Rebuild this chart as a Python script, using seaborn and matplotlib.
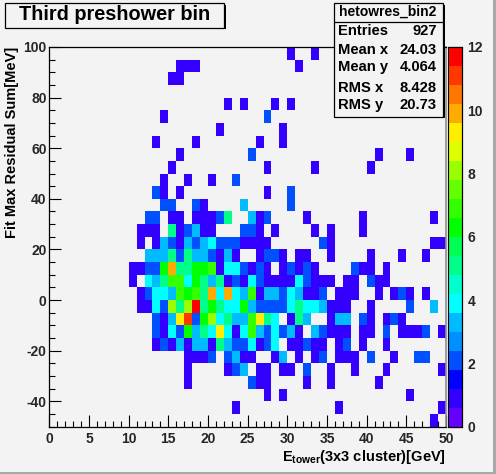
import numpy as np
import pandas as pd
import seaborn as sns
import matplotlib
matplotlib.use('Agg')
import matplotlib.pyplot as plt
from matplotlib.colors import ListedColormap
from matplotlib.patches import Rectangle
from matplotlib.ticker import FixedLocator

# bin edges of the histogram
x_edges = np.arange(0, 51, 1)
y_edges = np.arange(100, -55, -5)

# counts per row, top row first, {x bin: count}, empty bins left out
row_counts = [
    {30: 1, 33: 1},
    {16: 1, 17: 1, 18: 1, 31: 1},
    {15: 1, 16: 1},
    {},
    {22: 1, 24: 1, 28: 1, 30: 1},
    {14: 1, 27: 2},
    {21: 1, 29: 1},
    {13: 1, 18: 1, 26: 1, 29: 1},
    {16: 1, 25: 2, 41: 1, 45: 1},
    {15: 1, 27: 1, 33: 1, 40: 1},
    {14: 1, 17: 1, 20: 1, 23: 2},
    {13: 2, 14: 1, 16: 1, 27: 1, 30: 2},
    {14: 2, 15: 2, 18: 2, 19: 1, 24: 3, 30: 2},
    {12: 2, 13: 2, 15: 1, 16: 1, 18: 1, 19: 1, 20: 1, 21: 2, 22: 5, 25: 3, 26: 1, 27: 2, 32: 1, 39: 1, 48: 1},
    {11: 1, 12: 1, 13: 1, 15: 5, 16: 1, 17: 2, 18: 3, 19: 1, 20: 1, 24: 2, 25: 2, 26: 1, 28: 1, 33: 1, 35: 1, 39: 1},
    {11: 1, 13: 1, 14: 3, 15: 2, 16: 1, 17: 3, 18: 2, 19: 3, 20: 4, 21: 2, 22: 2, 23: 2, 24: 1, 25: 1, 26: 1, 27: 1,
     34: 2, 35: 1, 48: 1, 49: 1},
    {12: 3, 13: 3, 14: 3, 15: 5, 16: 2, 17: 5, 18: 3, 19: 3, 20: 2, 21: 1, 22: 3, 23: 1, 26: 1, 27: 2, 28: 2, 29: 1,
     31: 1, 32: 1, 35: 1, 40: 1, 44: 1, 47: 1},
    {10: 1, 11: 1, 12: 2, 13: 2, 14: 6, 15: 10, 16: 5, 17: 5, 18: 6, 19: 6, 20: 7, 21: 1, 22: 4, 23: 4, 24: 2, 25: 1,
     26: 2, 27: 1, 29: 1, 30: 2, 31: 1, 32: 2, 33: 1, 38: 2, 39: 1, 40: 1, 42: 1},
    {10: 1, 12: 4, 13: 3, 14: 5, 15: 7, 16: 7, 17: 4, 18: 6, 19: 5, 20: 3, 21: 5, 22: 1, 23: 2, 24: 1, 25: 4, 26: 2,
     27: 1, 28: 1, 29: 1, 30: 1, 31: 4, 32: 2, 33: 1, 34: 1, 35: 1, 37: 1, 38: 1, 40: 2, 41: 1, 42: 1},
    {11: 1, 12: 2, 13: 4, 14: 4, 15: 3, 16: 7, 17: 6, 18: 7, 19: 5, 20: 10, 21: 4, 22: 10, 23: 4, 24: 3, 25: 7, 26: 1,
     27: 3, 28: 3, 29: 2, 30: 4, 31: 3, 32: 1, 33: 1, 34: 2, 36: 1, 37: 1, 38: 1, 41: 1, 43: 1, 44: 2, 45: 1, 47: 1},
    {11: 1, 12: 1, 13: 4, 14: 2, 15: 8, 16: 5, 17: 8, 18: 12, 19: 5, 20: 6, 21: 5, 22: 4, 23: 4, 24: 6, 25: 3, 26: 2,
     27: 2, 28: 2, 29: 2, 30: 4, 31: 5, 32: 4, 33: 4, 34: 3, 35: 1, 36: 1, 37: 1, 40: 1, 45: 2, 48: 3},
    {13: 2, 14: 1, 15: 3, 16: 9, 17: 11, 18: 2, 19: 6, 20: 8, 21: 4, 22: 5, 23: 3, 24: 3, 25: 7, 26: 9, 27: 5, 28: 4,
     30: 1, 31: 5, 32: 3, 35: 1, 36: 3, 37: 3, 39: 2, 40: 1, 42: 1, 43: 2, 44: 1},
    {13: 2, 14: 1, 15: 4, 16: 2, 17: 6, 18: 3, 19: 5, 20: 4, 21: 9, 22: 4, 23: 1, 24: 4, 25: 7, 26: 3, 27: 2, 28: 4,
     29: 2, 30: 3, 31: 1, 33: 3, 34: 2, 35: 1, 36: 1, 37: 1, 39: 1, 40: 1, 42: 2, 44: 1, 45: 1, 46: 1, 47: 2, 49: 1},
    {13: 1, 14: 2, 15: 1, 16: 3, 17: 1, 18: 3, 19: 3, 20: 1, 21: 5, 22: 3, 23: 2, 24: 2, 25: 4, 26: 1, 27: 2, 28: 4,
     30: 1, 31: 1, 32: 2, 33: 1, 34: 1, 36: 1, 37: 2, 39: 1, 42: 1},
    {17: 1, 18: 1, 19: 1, 20: 2, 22: 2, 23: 3, 24: 1, 25: 1, 28: 1, 29: 3, 31: 1, 33: 1, 34: 2, 36: 1, 37: 1, 38: 1,
     40: 2, 43: 1, 46: 2, 47: 2},
    {17: 1, 22: 1, 23: 2, 24: 3, 26: 1, 27: 1, 29: 1, 30: 1, 32: 2, 35: 1, 38: 1, 42: 1, 49: 1},
    {17: 1, 25: 2, 26: 1, 27: 1, 32: 1, 35: 1, 41: 1},
    {27: 1, 29: 1, 45: 1},
    {23: 1, 36: 1, 49: 1},
    {48: 1},
]

x_ticks = [0, 5, 10, 15, 20, 25, 30, 35, 40, 45, 50]
y_ticks = [100, 80, 60, 40, 20, 0, -20, -40]
z_ticks = [0, 2, 4, 6, 8, 10, 12]

stat_names = ['Entries', 'Mean x', 'Mean y', 'RMS x', 'RMS y']
stat_values = ['927', '24.03', '4.064', '8.428', '20.73']
stat_rows_px = [31, 50, 67, 88, 105]

# root rainbow palette, 20 contour levels
band_colors = ['#6600ff', '#3300ff', '#0000ff', '#0050ff', '#0090ff', '#00bbff', '#00ffff', '#00ffcc', '#00ff88',
               '#00ff55', '#00ff00', '#33ff00', '#66ff00', '#99ff00', '#ddff00', '#ffee00', '#ffaa00', '#ff7700',
               '#ff3800', '#ff0000']

W, H = 496, 474
BG = '#f3f3f3'
FONT = 'Liberation Sans'

sns.set_theme(style='white')
plt.rcParams['font.family'] = FONT
plt.rcParams['font.weight'] = 'bold'
plt.rcParams['mathtext.fontset'] = 'custom'
plt.rcParams['mathtext.bf'] = 'Liberation Sans:bold'
plt.rcParams['mathtext.rm'] = 'Liberation Sans:bold'


def px_axes(left, top, right, bottom):
    return [left / W, 1 - bottom / H, (right - left) / W, (bottom - top) / H]


def px_box(x0, y0, x1, y1, **kw):
    fig.add_artist(Rectangle((x0 / W, 1 - y1 / H), (x1 - x0) / W, (y1 - y0) / H,
                             transform=fig.transFigure, **kw))


def px_text(x, y, s, **kw):
    fig.text(x / W, 1 - y / H, s, color='black', **kw)


counts = pd.DataFrame(0, index=y_edges[:-1] - 5, columns=x_edges[:-1])
for i, row in enumerate(row_counts):
    for col, n in row.items():
        counts.iloc[i, col] = n

fig = plt.figure(figsize=(W / 100, H / 100), dpi=100, facecolor=BG)
ax = fig.add_axes(px_axes(49.3, 47, 446, 426.5))
cax = fig.add_axes(px_axes(448, 47, 462, 426.5))
ax.set_facecolor(BG)

sns.heatmap(counts, mask=counts == 0, cmap=ListedColormap(band_colors), vmin=0, vmax=12,
            ax=ax, cbar_ax=cax, xticklabels=False, yticklabels=False)

# heatmap works in bin index, convert the axis values to that
ax.set_xticks(x_ticks, [str(t) for t in x_ticks], fontsize=10, fontweight='bold')
ax.xaxis.set_minor_locator(FixedLocator(np.arange(0, 51, 1)))
ax.set_yticks([(100 - t) / 5 for t in y_ticks], [str(t) for t in y_ticks], fontsize=10, fontweight='bold')
ax.yaxis.set_minor_locator(FixedLocator(np.arange(0, 31, 1)))
ax.tick_params(axis='both', which='major', direction='in', length=8.5, width=0.8, color='black', left=True, bottom=True)
ax.tick_params(axis='both', which='minor', direction='in', length=4.3, width=0.8, color='black', left=True, bottom=True)
ax.tick_params(axis='x', which='major', pad=4)
ax.tick_params(axis='y', which='major', pad=2)
for side in ax.spines:
    ax.spines[side].set_visible(True)
    ax.spines[side].set_color('black')
    ax.spines[side].set_linewidth(0.9)
ax.spines['right'].set_color('#8c8c8c')
ax.spines['right'].set_linewidth(1.2)

cax.set_yticks(z_ticks, [str(t) for t in z_ticks], fontsize=10, fontweight='bold')
cax.tick_params(axis='y', which='major', direction='in', right=True, left=False, length=8.5, width=0.8,
                color='black', pad=4)
for side in cax.spines:
    cax.spines[side].set_visible(True)
    cax.spines[side].set_color('black')
    cax.spines[side].set_linewidth(0.8)
cax.spines['left'].set_color('#8c8c8c')

# canvas bevel
px_box(0, 471.5, W, H, facecolor='#a8a8a8', edgecolor='none')
px_box(493, 0, W, H, facecolor='#a8a8a8', edgecolor='none')

# title box with shadow
px_box(6, 5, 226, 29, facecolor='black', edgecolor='none')
px_box(4.5, 3, 224, 27.5, facecolor=BG, edgecolor='black', linewidth=0.9)
px_text(115, 14, 'Third preshower bin', fontsize=14.3, fontweight='bold', ha='center', va='center')

# stats box with shadow
px_box(335, 5, 444.5, 118, facecolor='black', edgecolor='none', zorder=3)
px_box(333.5, 3, 443, 116.5, facecolor=BG, edgecolor='black', linewidth=0.9, zorder=3)
fig.add_artist(plt.Line2D([333.5 / W, 443 / W], [1 - 22 / H, 1 - 22 / H], color='black', linewidth=0.9, zorder=3))
px_text(388, 12, 'hetowres_bin2', fontsize=10, fontweight='bold', ha='center', va='center', zorder=4)
for name, value, y in zip(stat_names, stat_values, stat_rows_px):
    px_text(338, y, name, fontsize=10.6, fontweight='bold', ha='left', va='center', zorder=4)
    px_text(437, y, value, fontsize=10.6, fontweight='bold', ha='right', va='center', zorder=4)

# axis titles, right aligned with the frame as root does
px_text(446, 457, r'$\mathbf{E_{tower}}$(3x3 cluster)[GeV]', fontsize=10.5, fontweight='bold',
        ha='right', va='center')
px_text(12, 47, 'Fit Max Residual Sum[MeV]', fontsize=10.5, fontweight='bold', rotation=90,
        ha='center', va='top')

fig.savefig('out.png', dpi=100, facecolor=BG)
